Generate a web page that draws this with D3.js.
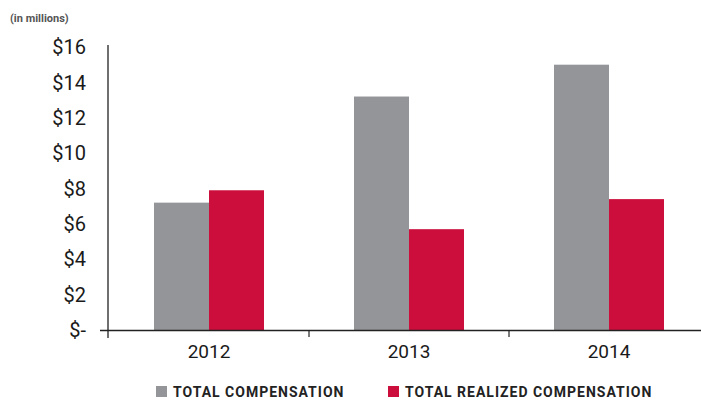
<!DOCTYPE html>
<html><head><meta charset="utf-8">
<script src="https://cdn.jsdelivr.net/npm/d3@7"></script>
<style>body{margin:0;background:#fff}svg{display:block;font-family:Roboto,"Open Sans",sans-serif}</style>
</head><body><svg id="c" width="701" height="400"></svg>
<script>
const categories = ["2012", "2013", "2014"];
const totalCompensation = [7.2, 13.2, 15.0];
const totalRealized = [7.9, 5.7, 7.4];
const yTicks = [0, 2, 4, 6, 8, 10, 12, 14, 16];
const seriesNames = ["TOTAL COMPENSATION", "TOTAL REALIZED COMPENSATION"];
const colors = ["#949599", "#cc0e3d"];

const svg = d3.select("#c");
const y = d3.scaleLinear().domain([0, 16]).range([330, 47]);
const x = d3.scaleBand().domain(categories).range([109, 709]).padding(0);
const barW = 55;

const series = [totalCompensation, totalRealized];
categories.forEach((c, i) => {
  const cx = x(c) + x.bandwidth() / 2;
  series.forEach((s, k) => {
    svg.append("rect")
      .attr("x", cx - barW + k * barW)
      .attr("y", y(s[i]))
      .attr("width", barW)
      .attr("height", y(0) - y(s[i]))
      .attr("fill", colors[k]);
  });
});

// y axis
svg.append("line").attr("x1", 108).attr("x2", 108).attr("y1", 45).attr("y2", 338)
  .attr("stroke", "#222").attr("stroke-width", 1.3);
yTicks.forEach(t => {
  svg.append("text").attr("x", 86).attr("y", y(t)).attr("dy", "0.36em")
    .attr("text-anchor", "end").attr("font-size", 20).attr("fill", "#1a1a1a")
    .text(t === 0 ? "$-" : "$" + t);
});
// x axis
svg.append("line").attr("x1", 100).attr("x2", 701).attr("y1", 330.5).attr("y2", 330.5)
  .attr("stroke", "#222").attr("stroke-width", 1.3);
[1, 2].forEach(j => {
  const bx = x(categories[j]);
  svg.append("line").attr("x1", bx).attr("x2", bx).attr("y1", 330).attr("y2", 337)
    .attr("stroke", "#222").attr("stroke-width", 1.2);
});
categories.forEach(c => {
  svg.append("text").attr("x", x(c) + x.bandwidth() / 2).attr("y", 358)
    .attr("text-anchor", "middle").attr("font-size", 19).attr("fill", "#1a1a1a").text(c);
});

svg.append("text").attr("x", 10).attr("y", 22).attr("font-size", 11).attr("font-weight", "bold")
  .attr("fill", "#555").text("(in millions)");

// legend
const legX = [156, 388];
seriesNames.forEach((n, k) => {
  svg.append("rect").attr("x", legX[k]).attr("y", 386).attr("width", 11).attr("height", 11).attr("fill", colors[k]);
  svg.append("text").attr("x", legX[k] + 17).attr("y", 397).attr("font-size", 14)
    .attr("letter-spacing", 1).attr("font-weight", "bold").attr("fill", "#222").text(n);
});
</script></body></html>
